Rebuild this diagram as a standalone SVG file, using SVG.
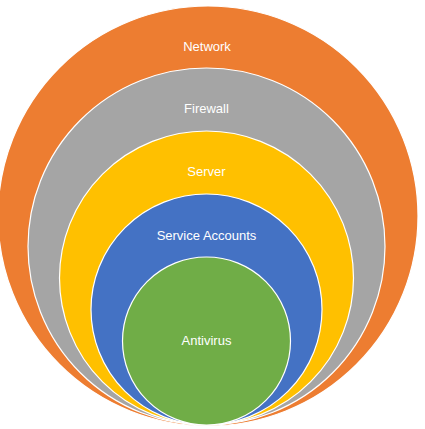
<svg xmlns="http://www.w3.org/2000/svg" width="425" height="429" viewBox="0 0 425 429">
<style>
.c{stroke:#ffffff;stroke-width:1.2}
.t{font-family:"Liberation Sans",Arial,sans-serif;font-size:13px;fill:#ffffff;text-anchor:middle}
</style>
<rect width="425" height="429" fill="#ffffff"/>
<g id="network"><circle class="c" cx="208" cy="216" r="210" fill="#ED7D31"/><text class="t" x="207" y="50.500">Network</text></g>
<g id="firewall"><circle class="c" cx="206.500" cy="246.500" r="178.500" fill="#A5A5A5"/><text class="t" x="206.500" y="112.500">Firewall</text></g>
<g id="server"><circle class="c" cx="206.500" cy="278" r="147" fill="#FFC000"/><text class="t" x="206.500" y="175.500">Server</text></g>
<g id="service-accounts"><circle class="c" cx="206.500" cy="309.500" r="115.500" fill="#4472C4"/><text class="t" x="206.500" y="239.500">Service Accounts</text></g>
<g id="antivirus"><circle class="c" cx="206.500" cy="341" r="84" fill="#70AD47"/><text class="t" x="206.500" y="344.500">Antivirus</text></g>
<g id="connectors"/>
</svg>
